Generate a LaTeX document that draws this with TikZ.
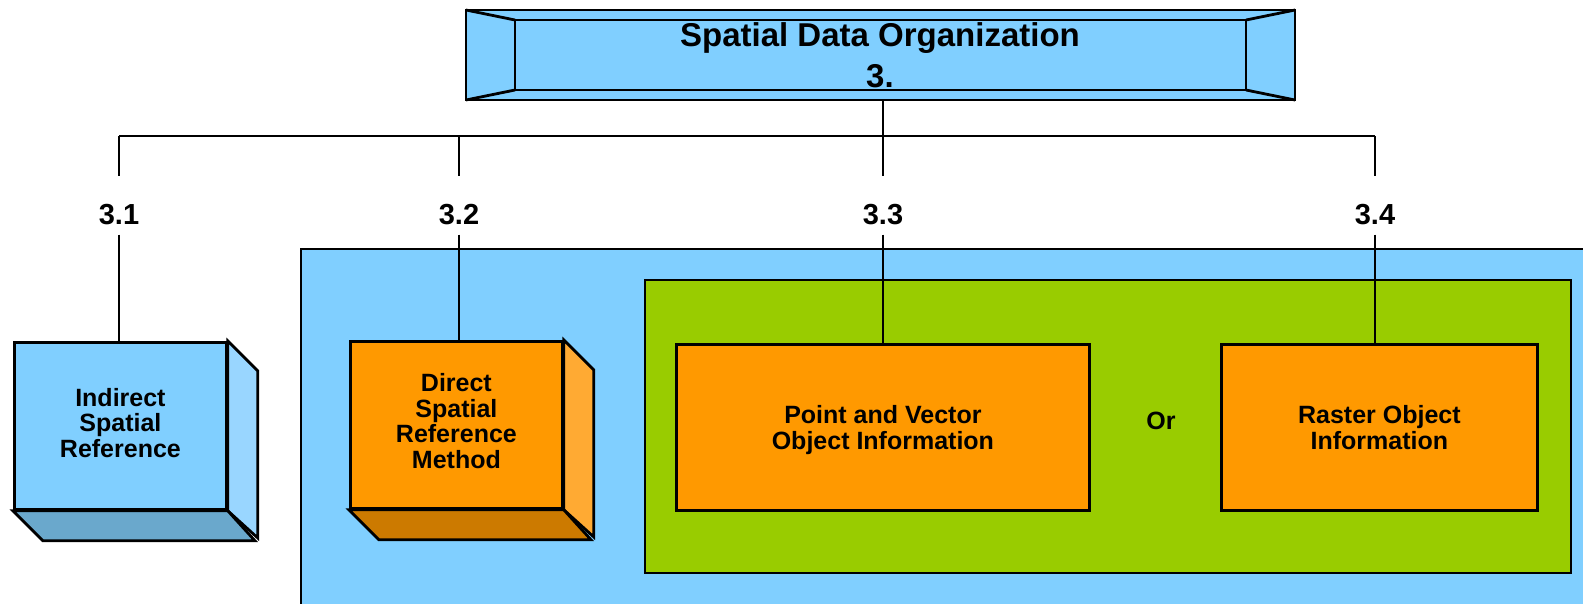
\documentclass[tikz,border=0pt]{standalone}
\usepackage{fontspec}
\setmainfont{Liberation Sans}
\definecolor{sky}{RGB}{128,207,255}
\definecolor{skyside}{RGB}{153,214,255}
\definecolor{skybottom}{RGB}{106,168,204}
\definecolor{amber}{RGB}{255,153,0}
\definecolor{amberside}{RGB}{255,170,51}
\definecolor{amberbottom}{RGB}{204,122,0}
\definecolor{lime}{RGB}{153,204,0}
\tikzset{
  edge/.style={line width=2.2pt, black},
  frame/.style={draw=black, line width=2.8pt, line join=miter},
  lbl/.style={font=\fontsize{29}{32}\selectfont\bfseries, inner sep=0pt},
  boxtxt/.style={font=\fontsize{25}{25.5}\selectfont\bfseries, align=center, text depth=0pt},
  front/.style={frame, anchor=north west, inner sep=0pt},
}
\begin{document}
\begin{tikzpicture}[x=1pt, y=-1pt]
  \useasboundingbox (0,0) rectangle (1583,603);
  \begin{scope}
  \clip (0,0) rectangle (1583,603);

  % outer grouping panels
  \draw[frame, fill=sky] (301,249) rectangle (1620,640);
  \draw[frame, fill=lime] (645,280) rectangle (1571,573);

  % bevelled title panel
  \draw[frame, fill=sky] (466,10) rectangle (1295,100);
  \draw[frame] (515,20) rectangle (1246,90);
  \draw[frame] (466,10) -- (515,20) (1295,10) -- (1246,20)
               (466,100) -- (515,90) (1295,100) -- (1246,90);
  \node[font=\fontsize{33}{41}\selectfont\bfseries, align=center, inner sep=0pt, anchor=base] (title) at (880,87)
    {Spatial Data Organization\\3.};
  \coordinate (top) at (883,100);

  % 3.1 : box with depth
  \node[front, fill=sky, minimum width=212, minimum height=167] (b31) at (13,341) {};
  \filldraw[frame, fill=skyside] (b31.north east) -- ++(30,30) -- ++(0,167) -- (b31.south east) -- cycle;
  \filldraw[frame, fill=skybottom] (b31.south west) -- ++(30,30) -- ++(212,0) -- (b31.south east) -- cycle;
  \node[boxtxt] at ([yshift=3]b31.center) {Indirect\\Spatial\\Reference};

  % 3.2 : box with depth
  \node[front, fill=amber, minimum width=212, minimum height=167] (b32) at (349,340) {};
  \filldraw[frame, fill=amberside] (b32.north east) -- ++(30,30) -- ++(0,167) -- (b32.south east) -- cycle;
  \filldraw[frame, fill=amberbottom] (b32.south west) -- ++(30,30) -- ++(212,0) -- (b32.south east) -- cycle;
  \node[boxtxt] at ([yshift=4]b32.center) {Direct\\Spatial\\Reference\\Method};

  % 3.3 and 3.4
  \node[front, fill=amber, minimum width=413, minimum height=166] (b33) at (675,343) {};
  \node[boxtxt] at (b33.center) {Point and Vector\\Object Information};
  \node[front, fill=amber, minimum width=316, minimum height=166] (b34) at (1220,343) {};
  \node[boxtxt] at (b34.center) {Raster Object\\Information};
  \node[boxtxt] (or) at (1161,421) {Or};

  % section numbers
  \node[lbl, anchor=base] (l31) at (119,224) {3.1};
  \node[lbl, anchor=base] (l32) at (459,224) {3.2};
  \node[lbl, anchor=base] (l33) at (883,224) {3.3};
  \node[lbl, anchor=base] (l34) at (1375,224) {3.4};

  % tree connectors
  \coordinate (bus) at (883,136);
  \draw[edge] (top) -- (bus);
  \draw[edge] (l31.north |- bus) -- (l34.north |- bus);
  \foreach \n in {l31,l32,l33,l34} {
    \draw[edge] (\n.north |- bus) -- ([yshift=-176]\n.north |- 0,0);
  }
  \draw[edge] ([yshift=-10]l31.south) -- (l31.south |- b31.north);
  \draw[edge] ([yshift=-10]l32.south) -- (l32.south |- b32.north);
  \draw[edge] ([yshift=-10]l33.south) -- (l33.south |- b33.north);
  \draw[edge] ([yshift=-10]l34.south) -- (l34.south |- b34.north);
  \end{scope}
\end{tikzpicture}
\end{document}
